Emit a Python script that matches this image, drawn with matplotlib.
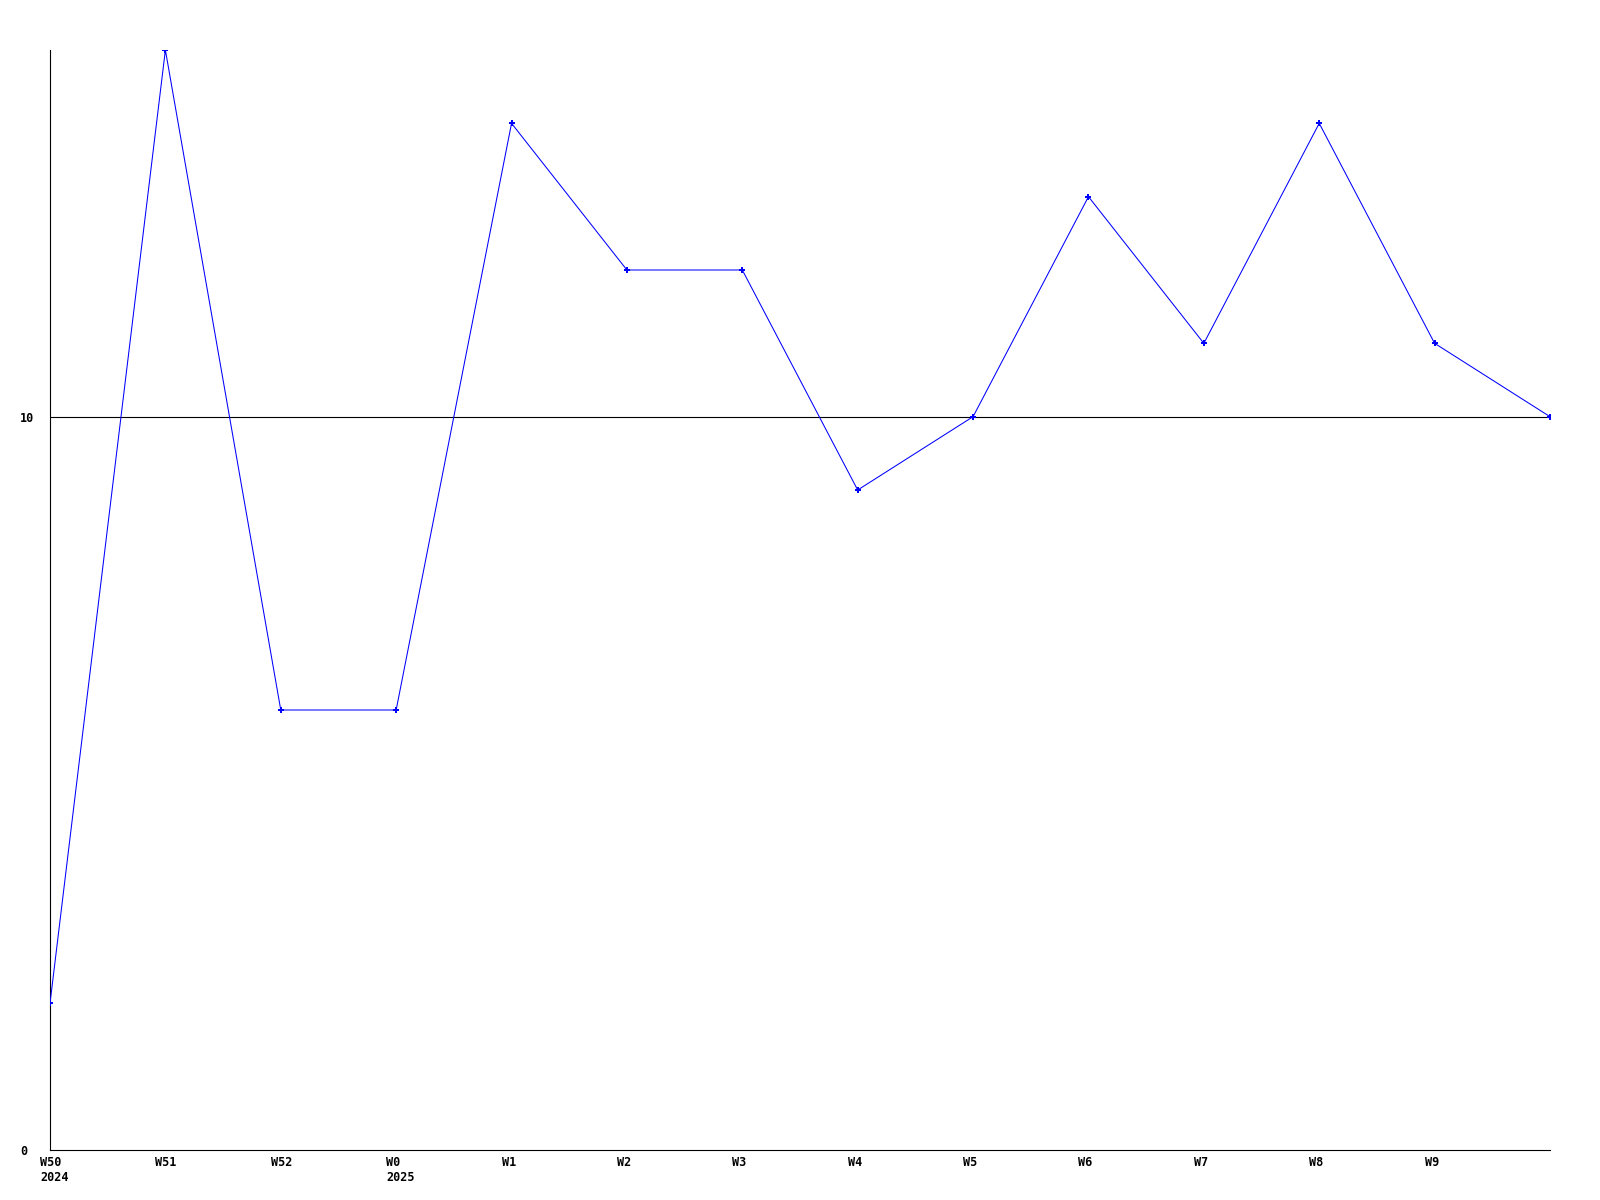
import matplotlib
matplotlib.use("Agg")
import matplotlib.pyplot as plt
from matplotlib.transforms import ScaledTranslation

# weekly values, W50 2024 .. W9 2025 plus one trailing point
weeks = ["W50\n2024", "W51", "W52", "W0\n2025", "W1", "W2", "W3",
         "W4", "W5", "W6", "W7", "W8", "W9", ""]
values = [2, 15, 6, 6, 14, 12, 12, 9, 10, 13, 11, 14, 11, 10]
y_ticks = [0, 10]
y_labels = ["0", "10"]
ref_level = 10

fig = plt.figure(figsize=(16, 12), dpi=100)
ax = fig.add_axes([50 / 1600, 50 / 1200, 1500 / 1600, 1100 / 1200])

x = list(range(len(values)))
ax.plot(x, values, color="#0000ff", linewidth=0.75, marker="P",
        markersize=4, markeredgewidth=0, zorder=3)
ax.axhline(ref_level, color="black", linewidth=0.8, zorder=2)

ax.set_xlim(0, len(values) - 1)
ax.set_ylim(0, 15)

for side in ("top", "right"):
    ax.spines[side].set_visible(False)
for side in ("left", "bottom"):
    ax.spines[side].set_linewidth(0.8)

font = dict(family="DejaVu Sans Mono", weight="bold", size=8.5)

ax.set_xticks(x)
ax.set_xticklabels(weeks, ha="left", va="top", linespacing=1.25, **font)
ax.tick_params(axis="x", length=0, pad=4)
shift = ScaledTranslation(-10 / 100, 0, fig.dpi_scale_trans)
for lab in ax.get_xticklabels():
    lab.set_transform(lab.get_transform() + shift)

ax.set_yticks(y_ticks)
ax.set_yticklabels(y_labels, ha="left", **font)
ax.tick_params(axis="y", length=0, pad=21.6)

fig.savefig("out.png", dpi=100)
